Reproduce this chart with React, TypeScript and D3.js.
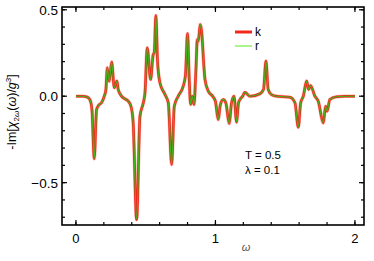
import React from "react";
import * as d3 from "d3";

// omega grid and the two curves (k and r overlap almost exactly)
const omega = [
  0, 0.05, 0.08, 0.1, 0.115, 0.131, 0.148, 0.165, 0.184, 0.203, 0.215, 0.224, 0.239, 0.256, 0.275,
  0.294, 0.303, 0.327, 0.35, 0.375, 0.395, 0.41, 0.435, 0.459, 0.483, 0.495, 0.511, 0.535, 0.554,
  0.561, 0.573, 0.585, 0.602, 0.638, 0.662, 0.686, 0.705, 0.733, 0.769, 0.785, 0.8, 0.812, 0.822,
  0.834, 0.846, 0.86, 0.87, 0.877, 0.891, 0.903, 0.915, 0.925, 0.949, 0.98, 1.0, 1.02, 1.035, 1.056,
  1.075, 1.099, 1.115, 1.133, 1.152, 1.165, 1.176, 1.195, 1.211, 1.247, 1.319, 1.345, 1.362, 1.378,
  1.4, 1.439, 1.534, 1.57, 1.594, 1.611, 1.63, 1.654, 1.668, 1.682, 1.713, 1.737, 1.773, 1.79, 1.801,
  1.82, 1.869, 1.93, 2.0,
];
const kValues = [
  0, 0, -0.005, -0.02, -0.08, -0.362, -0.077, -0.05, -0.037, 0, 0.04, 0.164, 0.087, 0.197, 0.049,
  0.087, 0.039, 0, -0.015, -0.029, -0.06, -0.15, -0.714, -0.116, -0.038, 0.02, 0.28, 0.097, 0.241,
  0.25, 0.467, 0.2, 0.078, 0.01, -0.038, -0.395, -0.058, 0, 0.058, 0.12, 0.363, 0.1, -0.048,
  0, -0.048, 0.15, 0.328, 0.318, 0.415, 0.357, 0.2, 0.097, 0.029, 0, -0.03, -0.135, -0.05, -0.019,
  -0.04, -0.158, -0.04, 0, -0.15, -0.04, -0.019, 0, 0.023, 0, 0.014, 0.04, 0.203, 0.04,
  0.01, 0, -0.006, -0.038, -0.18, -0.038, 0, 0.087, 0.039, 0.062, 0, -0.029, -0.154, -0.058, -0.087,
  -0.019, -0.003, 0, 0,
];
const rValues = kValues.slice();

const xMajor = [0, 1, 2];
const yMajor = [0.5, 0, -0.5];
const yLabels = ["0.5", "0.0", "\u22120.5"];

const App: React.FC = () => {
  const width = 374;
  const height = 261;
  const left = 62;
  const right = 364;
  const top = 7;
  const bottom = 225;

  const x = d3.scaleLinear().domain([-0.1, 2.065]).range([left, right]);
  const y = d3.scaleLinear().domain([-0.745, 0.516]).range([bottom, top]);

  const xMinor = d3.range(0, 2.01, 0.2);
  const yMinor = d3.range(-0.7, 0.51, 0.1);

  const line = d3
    .line<number>()
    .x((_, i) => x(omega[i]))
    .y((d) => y(d))
    .curve(d3.curveMonotoneX);

  const font = "'Liberation Sans', Arial, sans-serif";

  return (
    <div style={{ position: "absolute", left: 0, top: 0 }}>
      <svg width={width} height={height} style={{ display: "block", background: "#fff" }} fontFamily={font}>
        {/* curves */}
        <path d={line(kValues)!} fill="none" stroke="#ff6a5a" strokeWidth={3.6} strokeOpacity={0.5} />
        <path d={line(kValues)!} fill="none" stroke="#f0281e" strokeWidth={2.6} />
        <path d={line(rValues)!} fill="none" stroke="#3cb81a" strokeWidth={1.1} />

        {/* frame */}
        <rect x={left} y={top} width={right - left} height={bottom - top} fill="none" stroke="#000" strokeWidth={1.6} />

        {/* x ticks */}
        {xMinor.map((t) => (
          <g key={"xm" + t}>
            <line x1={x(t)} x2={x(t)} y1={bottom} y2={bottom - 3} stroke="#000" strokeWidth={1.2} />
            <line x1={x(t)} x2={x(t)} y1={top} y2={top + 3} stroke="#000" strokeWidth={1.2} />
          </g>
        ))}
        {xMajor.map((t) => (
          <g key={"xM" + t}>
            <line x1={x(t)} x2={x(t)} y1={bottom} y2={bottom - 5} stroke="#000" strokeWidth={1.2} />
            <line x1={x(t)} x2={x(t)} y1={top} y2={top + 5} stroke="#000" strokeWidth={1.2} />
            <text x={x(t)} y={243} textAnchor="middle" fontSize={13} fill="#000">
              {t}
            </text>
          </g>
        ))}

        {/* y ticks */}
        {yMinor.map((t) => (
          <g key={"ym" + t.toFixed(1)}>
            <line x1={left} x2={left + 3} y1={y(t)} y2={y(t)} stroke="#000" strokeWidth={1.2} />
            <line x1={right} x2={right - 3} y1={y(t)} y2={y(t)} stroke="#000" strokeWidth={1.2} />
          </g>
        ))}
        {yMajor.map((t, i) => (
          <g key={"yM" + t}>
            <line x1={left} x2={left + 5} y1={y(t)} y2={y(t)} stroke="#000" strokeWidth={1.2} />
            <line x1={right} x2={right - 5} y1={y(t)} y2={y(t)} stroke="#000" strokeWidth={1.2} />
            <text x={58} y={y(t)} dy="0.36em" textAnchor="end" fontSize={13.5} fill="#000">
              {yLabels[i]}
            </text>
          </g>
        ))}

        {/* axis labels */}
        <text x={246} y={251} textAnchor="middle" fontSize={11} fontStyle="italic" fill="#555">
          ω
        </text>
        <text transform="translate(16,112) rotate(-90)" textAnchor="middle" fontSize={12.5} fill="#000">
          -Im[<tspan fontStyle="italic">χ</tspan>
          <tspan fontSize={8} dy={3}>2<tspan fontStyle="italic">ω</tspan></tspan>
          <tspan dy={-3}>(</tspan>
          <tspan fontStyle="italic">ω</tspan>)/<tspan fontStyle="italic">g</tspan>
          <tspan fontSize={8} dy={-5}>3</tspan>
          <tspan dy={5}>]</tspan>
        </text>

        {/* legend */}
        <line x1={235} x2={252} y1={32} y2={32} stroke="#f0281e" strokeWidth={3} />
        <text x={255} y={36} fontSize={12} fill="#000">k</text>
        <line x1={235} x2={252} y1={46} y2={46} stroke="#7cf04a" strokeWidth={1.3} />
        <text x={255} y={50} fontSize={12} fill="#000">r</text>

        {/* parameters */}
        <text x={245} y={159} fontSize={11.5} fill="#000">T = 0.5</text>
        <text x={245} y={174} fontSize={11.5} fill="#000">λ = 0.1</text>
      </svg>
    </div>
  );
};

export default App;
